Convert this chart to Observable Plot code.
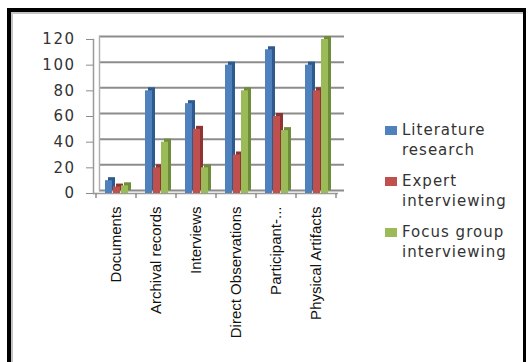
<!DOCTYPE html>
<html><head><meta charset="utf-8">
<script src="https://cdn.jsdelivr.net/npm/d3@7"></script>
<script src="https://cdn.jsdelivr.net/npm/@observablehq/plot@0.6"></script>
<style>
html,body{margin:0;padding:0;background:#fff;width:530px;height:362px;overflow:hidden}
#wrap{position:relative;width:530px;height:362px}
#border{position:absolute;left:7px;top:8px;width:519px;height:380px;border-left:4px solid #000;border-top:4px solid #000;border-right:3px solid #000;box-sizing:border-box}
#inner{position:absolute;left:11px;top:12px;width:512px;height:380px;border-left:2px solid #c4c4c4;border-top:2px solid #c4c4c4;box-sizing:border-box}
#chart{position:absolute;left:0;top:0}
#chart svg g[aria-label="y-axis tick label"] text{letter-spacing:1.5px}
#legend{position:absolute;left:385px;top:120px;font-family:"DejaVu Sans",Verdana,sans-serif;font-size:15px;letter-spacing:1px;color:#333}
.item{position:relative;padding-left:17px;line-height:20px;margin-bottom:11px}
.sw{position:absolute;left:0;top:6px;width:12px;height:9px}
</style>
</head><body>
<div id="wrap"><div id="border"></div><div id="inner"></div><div id="chart"></div><div id="legend"></div></div>
<script>
const categories = ["Documents","Archival records","Interviews","Direct Observations","Participant-...","Physical Artifacts"];
const seriesNames = ["Literature research","Expert interviewing","Focus group interviewing"];
const legendLines = [["Literature","research"],["Expert","interviewing"],["Focus group","interviewing"]];
const literatureResearch = [10, 80, 70, 100, 112, 100];
const expertInterviewing = [5, 20, 50, 30, 60, 80];
const focusGroupInterviewing = [6, 40, 20, 80, 49, 120];
const yTicks = [0, 20, 40, 60, 80, 100, 120];
const colors = ["#4f81bd", "#c0504d", "#9bbb59"];
const sideColors = ["#2f5a8e", "#8e3432", "#6f8c3a"];

const seriesValues = [literatureResearch, expertInterviewing, focusGroupInterviewing];
const rows = seriesNames.flatMap((s, k) => categories.map((c, i) => ({category: c, series: s, k, value: seriesValues[k][i]})));

const marks = [
  Plot.ruleY(yTicks, {dx: 6, dy: -3, stroke: "#8c8c8c", strokeWidth: 2}),
  Plot.ruleY([0], {stroke: "#9a9a9a", strokeWidth: 1.5}),
  Plot.frame({anchor: "left", stroke: "#9a9a9a", strokeWidth: 1.5}),
  Plot.frame({anchor: "left", stroke: "#b0b0b0", strokeWidth: 1.5, dx: 6, dy: -3})
];
seriesNames.forEach((s, k) => {
  const d = rows.filter(r => r.k === k);
  marks.push(Plot.barY(d, {x: "category", y: "value", fill: sideColors[k], insetLeft: 9 + 8 * k, insetRight: 24 - 8 * k, dx: 3, dy: -3}));
  marks.push(Plot.barY(d, {x: "category", y: "value", fill: colors[k], insetLeft: 9 + 8 * k, insetRight: 24 - 8 * k}));
});
marks.push(Plot.axisY({ticks: yTicks, tickSize: 7, tickPadding: 11, fontSize: 15, stroke: "#8c8c8c", fill: "#333", fontFamily: "DejaVu Sans", label: null}));
marks.push(Plot.axisX({tickSize: 0, tickRotate: -90, tickPadding: 13, fontSize: 15, fill: "#111", fontFamily: "Liberation Sans", label: null}));

const plot = Plot.plot({
  width: 530, height: 362,
  marginLeft: 93, marginRight: 192, marginTop: 39, marginBottom: 169,
  style: {background: "transparent", overflow: "visible"},
  x: {domain: categories, padding: 0},
  y: {domain: [0, 120]},
  marks
});
document.getElementById("chart").appendChild(plot);

// boundary ticks below the base line, placed through the x band scale
const xs = plot.scale("x");
const ys = plot.scale("y");
const svg = d3.select(plot);
const bw = xs.bandwidth;
const edges = categories.map(c => xs.apply(c)).concat([xs.apply(categories[categories.length - 1]) + bw]);
svg.append("g").selectAll("line").data(edges).join("line")
  .attr("x1", d => d).attr("x2", d => d)
  .attr("y1", ys.apply(0)).attr("y2", ys.apply(0) + 5)
  .attr("stroke", "#8c8c8c").attr("stroke-width", 1.5);

const legend = document.getElementById("legend");
legendLines.forEach((lines, k) => {
  const div = document.createElement("div");
  div.className = "item";
  const sw = document.createElement("span");
  sw.className = "sw"; sw.style.background = colors[k];
  div.appendChild(sw);
  lines.forEach((t, j) => {
    const line = document.createElement("div");
    line.textContent = t;
    div.appendChild(line);
  });
  legend.appendChild(div);
});
</script>
</body></html>
